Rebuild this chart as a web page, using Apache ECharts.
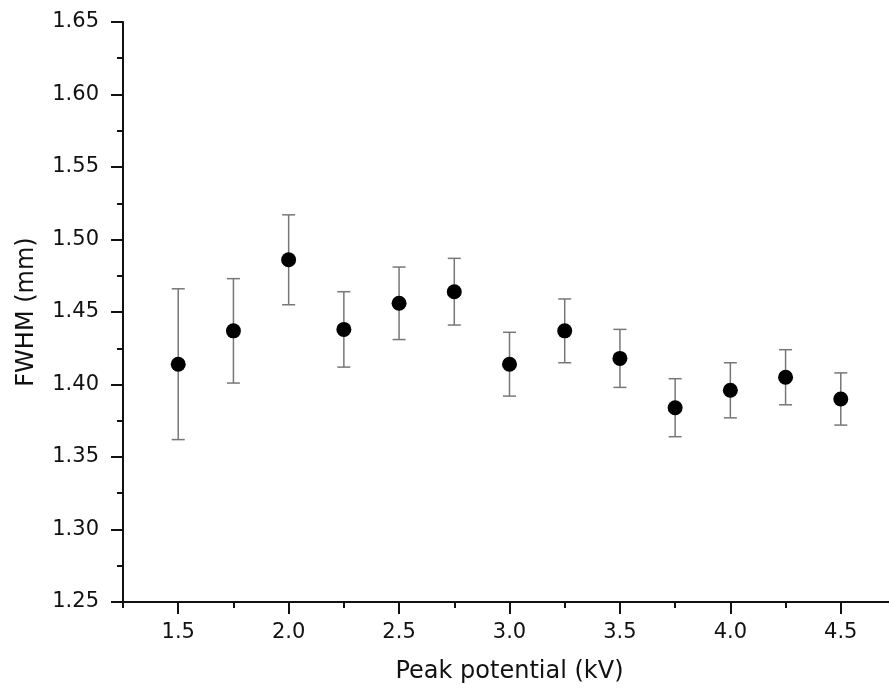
<!DOCTYPE html>
<html>
<head>
<meta charset="utf-8">
<script src="https://cdn.jsdelivr.net/npm/echarts@6/dist/echarts.min.js"></script>
<style>
  html, body { margin: 0; padding: 0; background: #fff; }
  #main { width: 889px; height: 693px; }
</style>
</head>
<body>
<div id="main"></div>
<script>
// peak potential (kV)
var potential = [1.5, 1.75, 2.0, 2.25, 2.5, 2.75, 3.0, 3.25, 3.5, 3.75, 4.0, 4.25, 4.5];
// FWHM (mm), mean and error bar ends
var fwhm = [1.414, 1.437, 1.486, 1.438, 1.456, 1.464, 1.414, 1.437, 1.418, 1.384, 1.396, 1.405, 1.390];
var errHigh = [1.466, 1.473, 1.517, 1.464, 1.481, 1.487, 1.436, 1.459, 1.438, 1.404, 1.415, 1.424, 1.408];
var errLow = [1.362, 1.401, 1.455, 1.412, 1.431, 1.441, 1.392, 1.415, 1.398, 1.364, 1.377, 1.386, 1.372];
// labelled x ticks and minor x ticks
var xTicks = [1.5, 2.0, 2.5, 3.0, 3.5, 4.0, 4.5];
var xMinorTicks = [1.25, 1.75, 2.25, 2.75, 3.25, 3.75, 4.25];

var myChart = echarts.init(document.getElementById("main"));

var font = "DejaVu Sans";
var pointData = potential.map(function (x, i) {
  return [x, fwhm[i]];
});
var errData = potential.map(function (x, i) {
  return [x, errLow[i], errHigh[i]];
});

var option = {
  backgroundColor: "#fff",
  animation: false,
  grid: {
    left: 123,
    right: -7,
    top: 22,
    bottom: 91,
    outerBoundsMode: "none",
    containLabel: false,
  },
  xAxis: [
    {
      type: "value",
      min: 1.25,
      max: 4.75,
      name: "Peak potential (kV)",
      nameLocation: "middle",
      nameGap: 58,
      nameTextStyle: { fontFamily: font, fontSize: 24, color: "#111" },
      axisLine: { show: true, lineStyle: { color: "#111", width: 2 } },
      axisTick: {
        show: true,
        length: 12,
        customValues: xTicks,
        lineStyle: { color: "#111", width: 2 },
      },
      axisLabel: {
        customValues: xTicks,
        margin: 20,
        fontFamily: font,
        fontSize: 21,
        color: "#111",
        formatter: function (v) {
          return v.toFixed(1);
        },
      },
      splitLine: { show: false },
    },
    {
      type: "value",
      min: 1.25,
      max: 4.75,
      position: "bottom",
      axisLine: { show: false },
      axisTick: {
        show: true,
        length: 6,
        customValues: xMinorTicks,
        lineStyle: { color: "#111", width: 2 },
      },
      axisLabel: { show: false },
      splitLine: { show: false },
    },
  ],
  yAxis: {
    type: "value",
    min: 1.25,
    max: 1.65,
    interval: 0.05,
    name: "FWHM (mm)",
    nameLocation: "middle",
    nameGap: 84,
    nameTextStyle: { fontFamily: font, fontSize: 24, color: "#111" },
    axisLine: { show: true, lineStyle: { color: "#111", width: 2 } },
    axisTick: { show: true, length: 12, lineStyle: { color: "#111", width: 2 } },
    minorTick: { show: true, splitNumber: 2, length: 6, lineStyle: { color: "#111", width: 2 } },
    axisLabel: {
      margin: 24,
      fontFamily: font,
      fontSize: 21,
      color: "#111",
      formatter: function (v) {
        return v.toFixed(2);
      },
    },
    splitLine: { show: false },
  },
  series: [
    {
      type: "custom",
      name: "error",
      xAxisIndex: 0,
      data: errData,
      renderItem: function (params, api) {
        var lo = api.coord([api.value(0), api.value(1)]);
        var hi = api.coord([api.value(0), api.value(2)]);
        var w = 6.5;
        var style = { stroke: "#777", lineWidth: 1.5 };
        return {
          type: "group",
          children: [
            { type: "line", shape: { x1: lo[0], y1: lo[1], x2: hi[0], y2: hi[1] }, style: style },
            { type: "line", shape: { x1: lo[0] - w, y1: lo[1], x2: lo[0] + w, y2: lo[1] }, style: style },
            { type: "line", shape: { x1: hi[0] - w, y1: hi[1], x2: hi[0] + w, y2: hi[1] }, style: style },
          ],
        };
      },
      z: 2,
    },
    {
      type: "scatter",
      name: "FWHM",
      xAxisIndex: 0,
      data: pointData,
      symbol: "circle",
      symbolSize: 15,
      itemStyle: { color: "#000", opacity: 1 },
      z: 3,
    },
  ],
};

myChart.setOption(option);
</script>
</body>
</html>
